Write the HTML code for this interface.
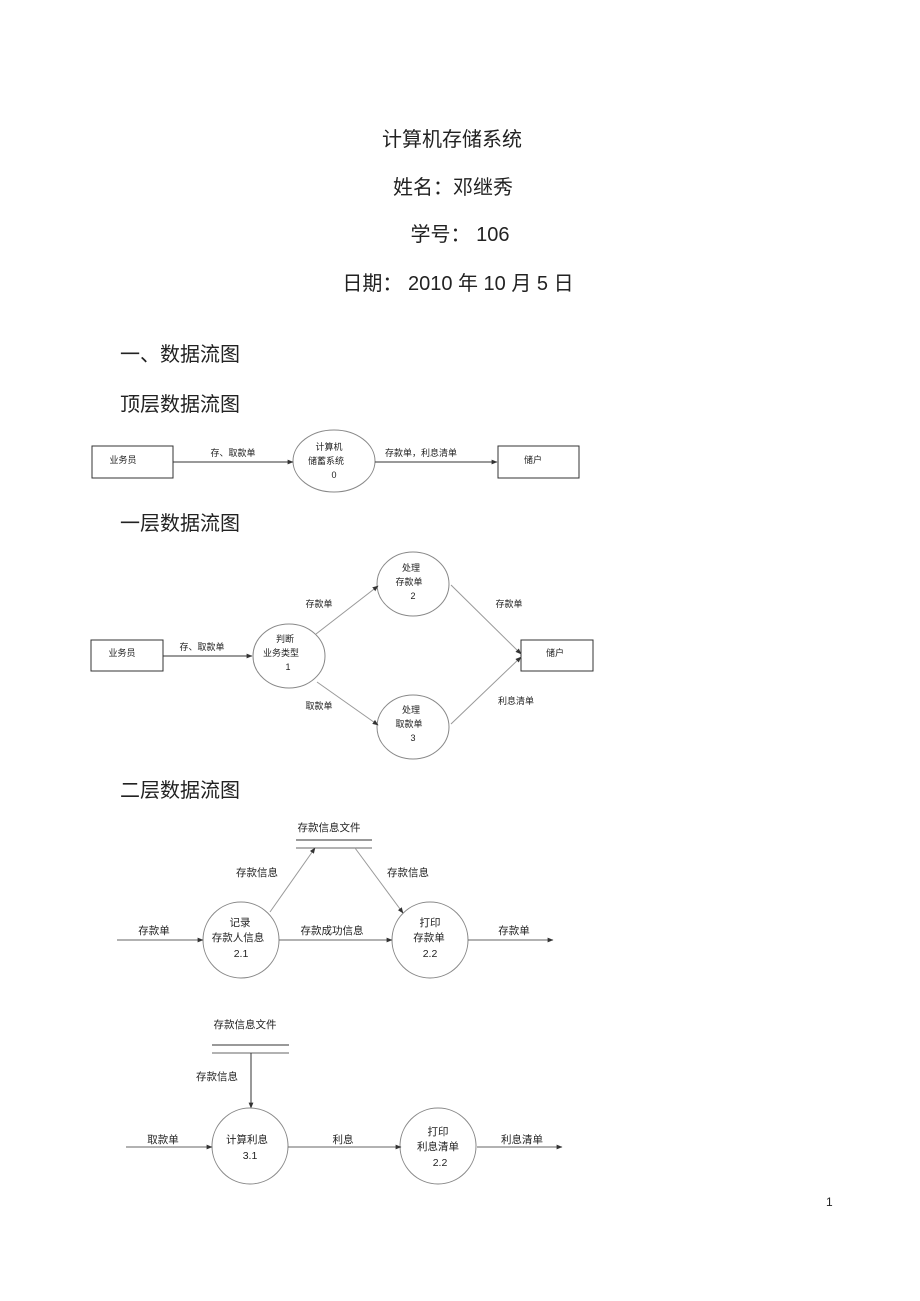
<!DOCTYPE html>
<html><head><meta charset="utf-8">
<style>
html,body{margin:0;padding:0;background:#fff;}
svg{display:block;}
text{font-family:"Liberation Sans","Noto Sans CJK SC",sans-serif;fill:#222;}
.t{font-size:20px;text-anchor:middle;}
.h{font-size:20px;}
.s{font-size:9px;text-anchor:middle;}
.m{font-size:10.5px;text-anchor:middle;}
</style></head><body>
<svg width="920" height="1301" viewBox="0 0 920 1301" xmlns="http://www.w3.org/2000/svg">
<defs>
<marker id="a" viewBox="0 0 10 10" refX="9" refY="5" markerWidth="6" markerHeight="6" orient="auto"><path d="M0,1 L10,5 L0,9 z" fill="#333"/></marker>
</defs>
<text class="t" x="452" y="146">计算机存储系统</text>
<text class="t" x="453" y="194">姓名：邓继秀</text>
<text class="t" x="460" y="241">学号： 106</text>
<text class="t" x="458" y="290">日期： 2010 年 10 月 5 日</text>
<text class="h" x="120" y="361">一、数据流图</text>
<text class="h" x="120" y="411">顶层数据流图</text>
<text class="h" x="120" y="530">一层数据流图</text>
<text class="h" x="120" y="797">二层数据流图</text>

<g stroke="#333" fill="none" stroke-width="1">
<!-- top -->
<rect x="92" y="446" width="81" height="32"/>
<rect x="498" y="446" width="81" height="32"/>
<ellipse cx="334" cy="461" rx="41" ry="31" stroke="#888"/>
<line x1="173" y1="462" x2="293" y2="462" marker-end="url(#a)"/>
<line x1="375" y1="462" x2="497" y2="462" marker-end="url(#a)"/>
<!-- layer 1 -->
<rect x="91" y="640" width="72" height="31"/>
<rect x="521" y="640" width="72" height="31"/>
<ellipse cx="289" cy="656" rx="36" ry="32" stroke="#888"/>
<ellipse cx="413" cy="584" rx="36" ry="32" stroke="#888"/>
<ellipse cx="413" cy="727" rx="36" ry="32" stroke="#888"/>
<line x1="163" y1="656" x2="252" y2="656" marker-end="url(#a)"/>
<line x1="316" y1="634" x2="378" y2="586" stroke="#999" marker-end="url(#a)"/>
<line x1="317" y1="682" x2="378" y2="725" stroke="#999" marker-end="url(#a)"/>
<line x1="451" y1="585" x2="521" y2="654" stroke="#999" marker-end="url(#a)"/>
<line x1="451" y1="724" x2="521" y2="657" stroke="#999" marker-end="url(#a)"/>
<!-- layer 2a -->
<line x1="296" y1="840" x2="372" y2="840"/>
<line x1="296" y1="848" x2="372" y2="848" stroke="#666"/>
<circle cx="241" cy="940" r="38" stroke="#888"/>
<circle cx="430" cy="940" r="38" stroke="#888"/>
<line x1="117" y1="940" x2="203" y2="940" stroke="#666" marker-end="url(#a)"/>
<line x1="279" y1="940" x2="392" y2="940" stroke="#666" marker-end="url(#a)"/>
<line x1="468" y1="940" x2="553" y2="940" stroke="#666" marker-end="url(#a)"/>
<line x1="270" y1="912" x2="315" y2="848" stroke="#999" marker-end="url(#a)"/>
<line x1="355" y1="848" x2="403" y2="913" stroke="#999" marker-end="url(#a)"/>
<!-- layer 2b -->
<line x1="212" y1="1045" x2="289" y2="1045"/>
<line x1="212" y1="1053" x2="289" y2="1053" stroke="#666"/>
<line x1="251" y1="1053" x2="251" y2="1108" marker-end="url(#a)"/>
<circle cx="250" cy="1146" r="38" stroke="#888"/>
<circle cx="438" cy="1146" r="38" stroke="#888"/>
<line x1="126" y1="1147" x2="212" y2="1147" stroke="#666" marker-end="url(#a)"/>
<line x1="288" y1="1147" x2="401" y2="1147" stroke="#666" marker-end="url(#a)"/>
<line x1="477" y1="1147" x2="562" y2="1147" stroke="#666" marker-end="url(#a)"/>
</g>

<!-- top labels -->
<text class="s" x="123" y="463">业务员</text>
<text class="s" x="533" y="463">储户</text>
<text class="s" x="233" y="456">存、取款单</text>
<text class="s" x="421" y="456">存款单，利息清单</text>
<text class="s" x="329" y="450">计算机</text>
<text class="s" x="326" y="464">储蓄系统</text>
<text class="s" x="334" y="478">0</text>
<!-- layer 1 labels -->
<text class="s" x="122" y="656">业务员</text>
<text class="s" x="555" y="656">储户</text>
<text class="s" x="202" y="650">存、取款单</text>
<text class="s" x="285" y="642">判断</text>
<text class="s" x="281" y="656">业务类型</text>
<text class="s" x="288" y="670">1</text>
<text class="s" x="411" y="571">处理</text>
<text class="s" x="409" y="585">存款单</text>
<text class="s" x="413" y="599">2</text>
<text class="s" x="411" y="713">处理</text>
<text class="s" x="409" y="727">取款单</text>
<text class="s" x="413" y="741">3</text>
<text class="s" x="319" y="607">存款单</text>
<text class="s" x="319" y="709">取款单</text>
<text class="s" x="509" y="607">存款单</text>
<text class="s" x="516" y="704">利息清单</text>
<!-- layer 2a labels -->
<text class="m" x="329" y="831">存款信息文件</text>
<text class="m" x="257" y="876">存款信息</text>
<text class="m" x="408" y="876">存款信息</text>
<text class="m" x="154" y="934">存款单</text>
<text class="m" x="332" y="934">存款成功信息</text>
<text class="m" x="514" y="934">存款单</text>
<text class="m" x="240" y="926">记录</text>
<text class="m" x="238" y="941">存款人信息</text>
<text class="m" x="241" y="957">2.1</text>
<text class="m" x="430" y="926">打印</text>
<text class="m" x="429" y="941">存款单</text>
<text class="m" x="430" y="957">2.2</text>
<!-- layer 2b labels -->
<text class="m" x="245" y="1028">存款信息文件</text>
<text class="m" x="217" y="1080">存款信息</text>
<text class="m" x="163" y="1143">取款单</text>
<text class="m" x="343" y="1143">利息</text>
<text class="m" x="522" y="1143">利息清单</text>
<text class="m" x="247" y="1143">计算利息</text>
<text class="m" x="250" y="1159">3.1</text>
<text class="m" x="438" y="1135">打印</text>
<text class="m" x="438" y="1150">利息清单</text>
<text class="m" x="440" y="1166">2.2</text>
<text x="826" y="1206" style="font-size:12px">1</text>
</svg>
</body></html>
